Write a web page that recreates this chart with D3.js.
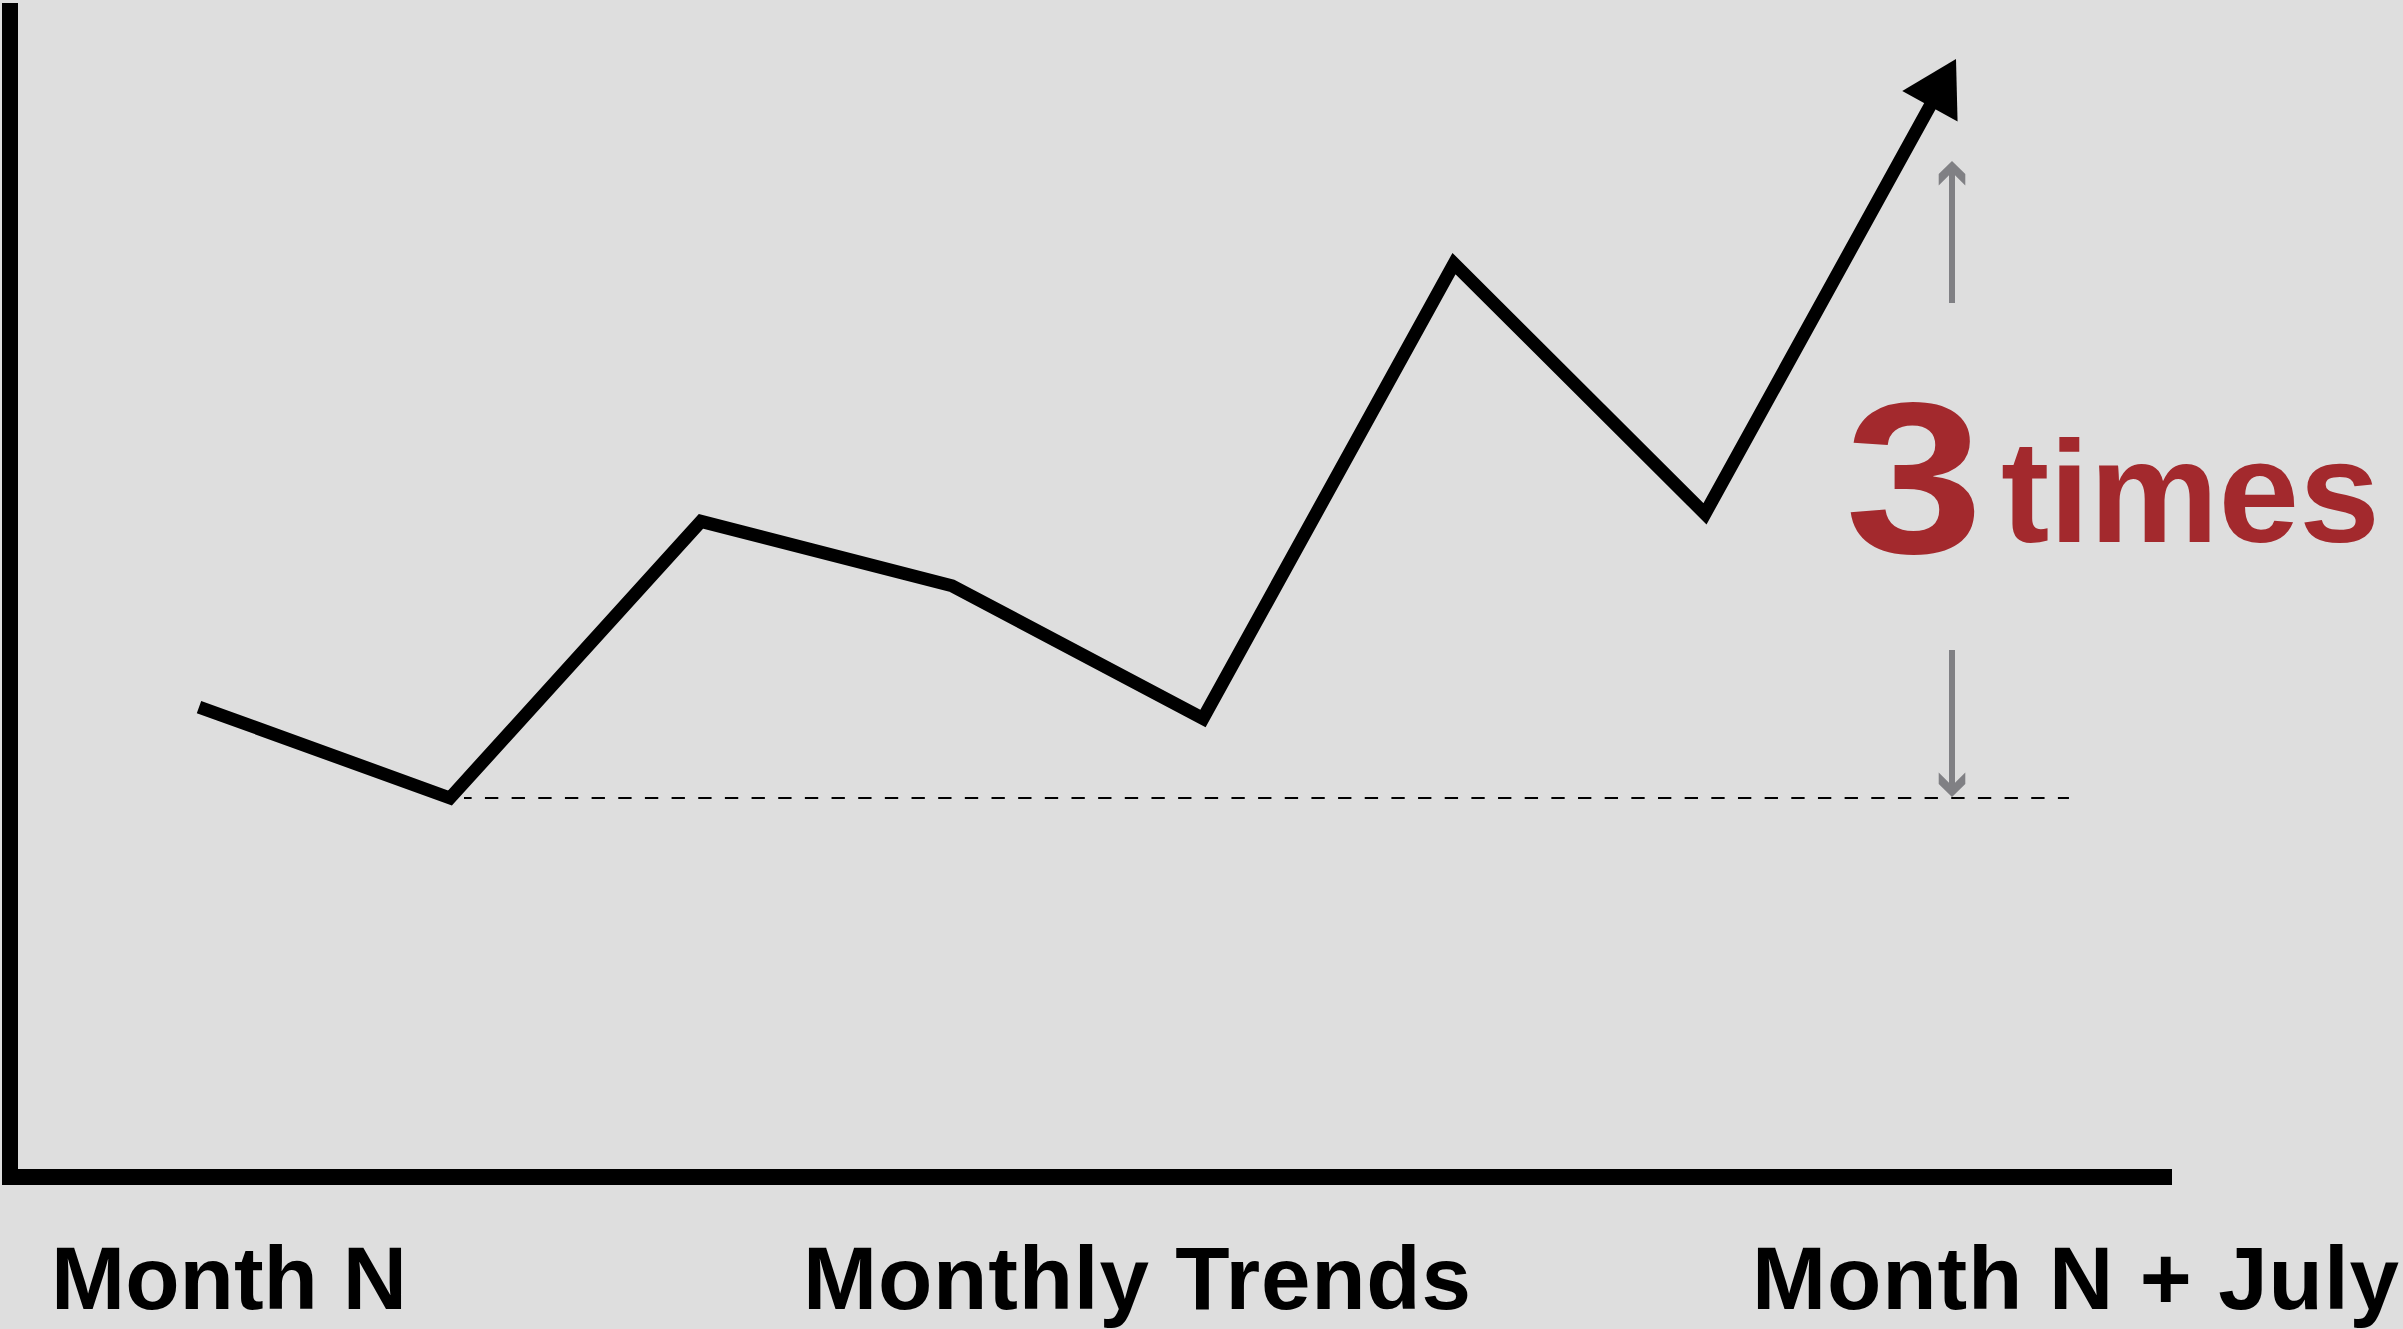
<!DOCTYPE html>
<html>
<head>
<meta charset="utf-8">
<script src="https://cdn.jsdelivr.net/npm/d3@7"></script>
<style>
  html, body { margin: 0; padding: 0; background: #dedede; overflow: hidden; }
  svg { display: block; }
</style>
</head>
<body>
<svg id="chart" width="2403" height="1329"></svg>
<script>
// Monthly index (Month N low point = 100)
const periods = [0, 1, 2, 3, 4, 5, 6, 7];
const values = [124, 100, 173, 156, 121, 241, 175, 295];
const axisLabels = ["Month N", "Monthly Trends", "Month N + July"];
const multipleValue = "3";
const multipleUnit = "times";

const W = 2403, H = 1329;
const svg = d3.select("#chart");

svg.append("rect").attr("width", W).attr("height", H).attr("fill", "#dedede");

const x = d3.scaleLinear().domain([0, 7]).range([199, 1956]);
const y = d3.scaleLinear().domain([0, 300]).range([1177, 40]);

// Axes: heavy L-shaped frame
svg.append("path")
  .attr("d", `M10,3 V${y(0)} H2172`)
  .attr("fill", "none")
  .attr("stroke", "#000")
  .attr("stroke-width", 16)
  .attr("stroke-linejoin", "miter")
  .attr("stroke-linecap", "butt");

// Baseline reference at the low point
const minIdx = values.indexOf(d3.min(values));
svg.append("line")
  .attr("x1", x(periods[minIdx]) + 14)
  .attr("x2", x(7.45))
  .attr("y1", y(values[minIdx]))
  .attr("y2", y(values[minIdx]))
  .attr("stroke", "#000")
  .attr("stroke-width", 2)
  .attr("stroke-dasharray", "13.33,13.33")
  .attr("stroke-dashoffset", 5.7);

// Trend line ending in an arrowhead
const pts = periods.map((p, i) => [x(p), y(values[i])]);
const tip = pts[pts.length - 1];
const prev = pts[pts.length - 2];
const dx = tip[0] - prev[0], dy = tip[1] - prev[1];
const len = Math.hypot(dx, dy);
const ux = dx / len, uy = dy / len;
const headLen = 54, headHalf = 31.6;
const linePts = pts.slice(0, -1).concat([[tip[0] - ux * 44, tip[1] - uy * 44]]);

svg.append("path")
  .attr("d", d3.line()(linePts))
  .attr("fill", "none")
  .attr("stroke", "#000")
  .attr("stroke-width", 13)
  .attr("stroke-linejoin", "miter")
  .attr("stroke-miterlimit", 10)
  .attr("stroke-linecap", "butt");

const bx = tip[0] - ux * headLen, by = tip[1] - uy * headLen;
const nx = -uy, ny = ux;
svg.append("path")
  .attr("d", `M${tip[0]},${tip[1]} L${bx + nx * headHalf},${by + ny * headHalf} L${bx - nx * headHalf},${by - ny * headHalf} Z`)
  .attr("fill", "#000");

// Gray measurement arrows
const ax = 1952;
const gray = "#808084";
function grayArrow(tipY, tailY) {
  const dir = tailY > tipY ? 1 : -1; // 1: pointing up
  svg.append("line")
    .attr("x1", ax).attr("x2", ax)
    .attr("y1", tipY + dir * 12).attr("y2", tailY)
    .attr("stroke", gray).attr("stroke-width", 6);
  const p = [
    [0, 0], [13.3, 13], [13.3, 24.5], [3, 14.2], [-3, 14.2], [-13.3, 24.5], [-13.3, 13]
  ].map(([px, py]) => [ax + px, tipY + dir * py]);
  svg.append("path")
    .attr("d", "M" + p.map(q => q.join(",")).join("L") + "Z")
    .attr("fill", gray);
}
grayArrow(161, 303);
grayArrow(y(values[minIdx]) - 1, 650);

// Multiple annotation
const red = "#a3292d";
svg.append("text")
  .attr("transform", "translate(1914,553) scale(1.15,1)")
  .attr("text-anchor", "middle")
  .attr("font-family", "'Liberation Sans', Arial, sans-serif")
  .attr("font-weight", "bold")
  .attr("font-size", 216)
  .attr("fill", red)
  .text(multipleValue);

svg.append("text")
  .attr("x", 2001).attr("y", 542)
  .attr("font-family", "'Liberation Sans', Arial, sans-serif")
  .attr("font-weight", "bold")
  .attr("font-size", 145)
  .attr("fill", red)
  .text(multipleUnit);

// Bottom labels
const labelX = [51, 803, 1752];
const labelLen = [356, 668, 647];
svg.selectAll("text.axis-label")
  .data(axisLabels)
  .join("text")
  .attr("class", "axis-label")
  .attr("x", (d, i) => labelX[i])
  .attr("y", 1309)
  .attr("font-family", "'Liberation Sans', Arial, sans-serif")
  .attr("font-weight", "bold")
  .attr("font-size", 89)
  .attr("textLength", (d, i) => labelLen[i])
  .attr("lengthAdjust", "spacing")
  .attr("fill", "#000")
  .text(d => d);
</script>
</body>
</html>
